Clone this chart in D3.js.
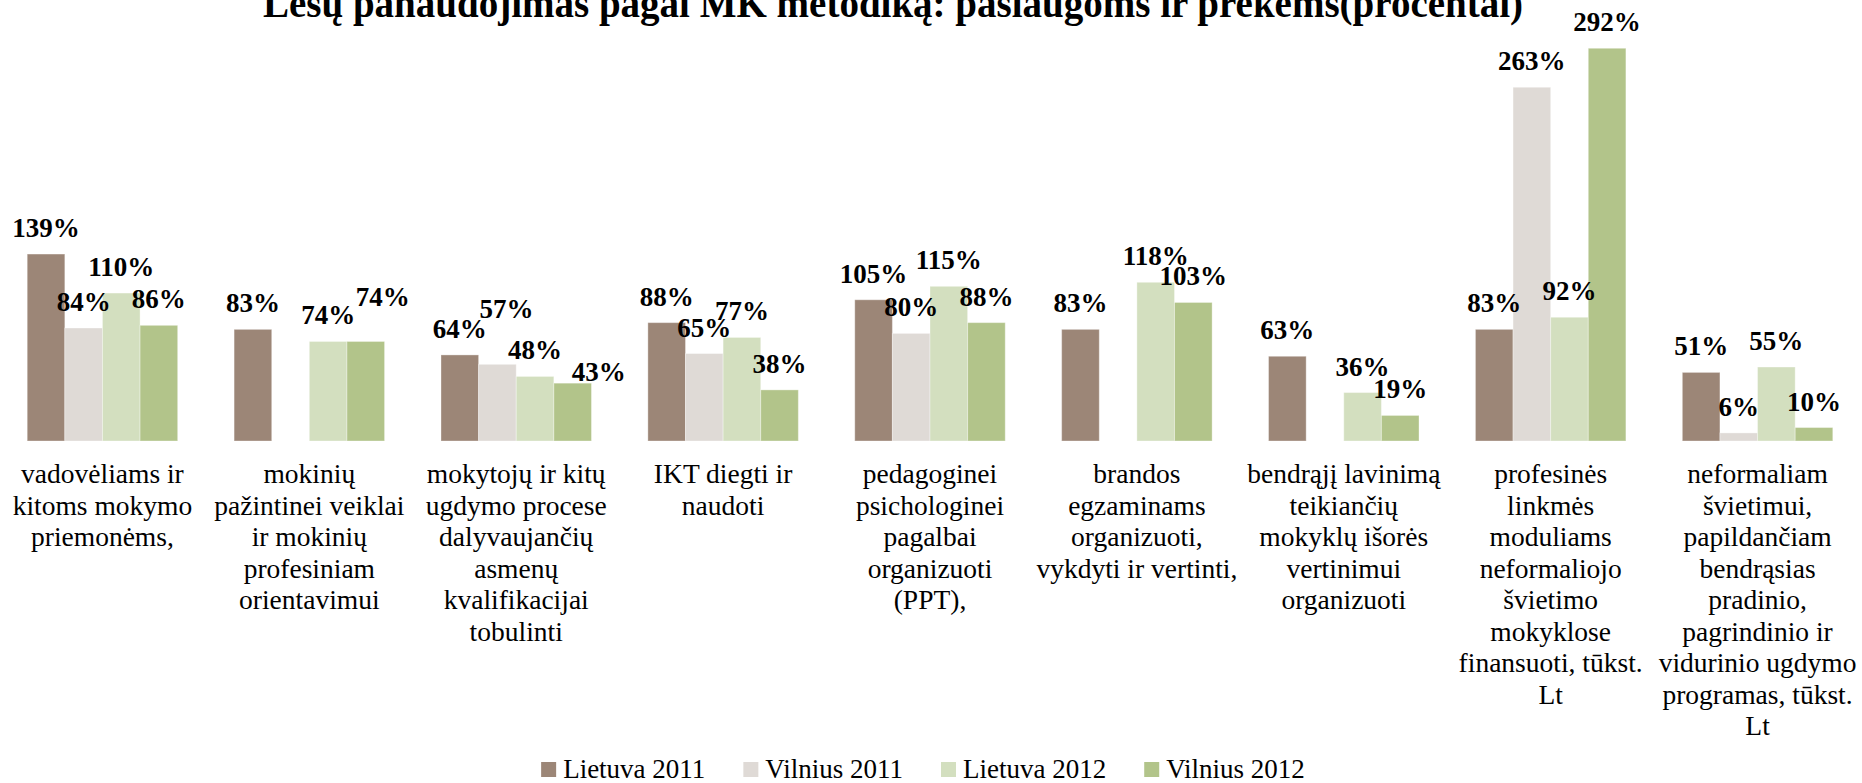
<!DOCTYPE html>
<html>
<head>
<meta charset="utf-8">
<script src="https://cdn.jsdelivr.net/npm/d3@7"></script>
<style>
  body { margin: 0; background: #fff; }
  svg { display: block; font-family: "Liberation Serif", serif; }
</style>
</head>
<body>
<script>
var width = 1862,
    height = 783

// categories (already broken into lines as in the original)
var categories = [
  ["vadovėliams ir", "kitoms mokymo", "priemonėms,"],
  ["mokinių", "pažintinei veiklai", "ir mokinių", "profesiniam", "orientavimui"],
  ["mokytojų ir kitų", "ugdymo procese", "dalyvaujančių", "asmenų", "kvalifikacijai", "tobulinti"],
  ["IKT diegti ir", "naudoti"],
  ["pedagoginei", "psichologinei", "pagalbai", "organizuoti", "(PPT),"],
  ["brandos", "egzaminams", "organizuoti,", "vykdyti ir vertinti,"],
  ["bendrąjį lavinimą", "teikiančių", "mokyklų išorės", "vertinimui", "organizuoti"],
  ["profesinės", "linkmės", "moduliams", "neformaliojo", "švietimo", "mokyklose", "finansuoti, tūkst.", "Lt"],
  ["neformaliam", "švietimui,", "papildančiam", "bendrąsias", "pradinio,", "pagrindinio ir", "vidurinio ugdymo", "programas, tūkst.", "Lt"]
];

var seriesNames = ["Lietuva 2011", "Vilnius 2011", "Lietuva 2012", "Vilnius 2012"];

var lietuva2011 = [139, 83, 64, 88, 105, 83, 63, 83, 51];
var vilnius2011 = [84, null, 57, 65, 80, null, null, 263, 6];
var lietuva2012 = [110, 74, 48, 77, 115, 118, 36, 92, 55];
var vilnius2012 = [86, 74, 43, 38, 88, 103, 19, 292, 10];

var seriesValues = [lietuva2011, vilnius2011, lietuva2012, vilnius2012];

var colors = ["#9c8677", "#dfdad6", "#d3dfbf", "#b2c48a"];

// a few labels were dragged by hand in the original
var labelNudge = [
  {cat: 1, series: 3, dx: 17, dy: -18},
  {cat: 2, series: 1, dx: 9, dy: -29},
  {cat: 2, series: 3, dx: 26, dy: 15}
];

var svg = d3.select("body").append("svg")
    .attr("width", width)
    .attr("height", height);

var x0 = d3.scaleBand()
    .domain(d3.range(categories.length))
    .range([-1, 1861]);

var x1 = d3.scaleBand()
    .domain(d3.range(seriesNames.length))
    .range([0, x0.bandwidth()])
    .paddingInner(0)
    .paddingOuter(0.75);

var y = d3.scaleLinear()
    .domain([0, 300])
    .range([441, 37.5]);

var rows = [];
seriesValues.forEach(function(vals, s) {
  vals.forEach(function(v, c) {
    if (v === null) return;
    var n = labelNudge.filter(function(d) { return d.cat === c && d.series === s; })[0];
    rows.push({cat: c, series: s, value: v, dx: n ? n.dx : 0, dy: n ? n.dy : 0});
  });
});

// title
svg.append("text")
    .attr("x", 893)
    .attr("y", 17)
    .attr("text-anchor", "middle")
    .style("font-size", "39px")
    .style("font-weight", "bold")
    .text("Lėšų panaudojimas pagal MK metodiką: paslaugoms ir prekėms(procentai)");

// bars
svg.append("g").selectAll("rect")
  .data(rows)
  .enter().append("rect")
    .attr("x", function(d) { return x0(d.cat) + x1(d.series); })
    .attr("y", function(d) { return y(d.value); })
    .attr("width", x1.bandwidth())
    .attr("height", function(d) { return y(0) - y(d.value); })
    .attr("fill", function(d) { return colors[d.series]; })
    .attr("stroke", "rgba(255,255,255,0.35)")
    .attr("stroke-width", 1);

// data labels
svg.append("g").selectAll("text")
  .data(rows)
  .enter().append("text")
    .attr("x", function(d) { return x0(d.cat) + x1(d.series) + x1.bandwidth() / 2 + d.dx; })
    .attr("y", function(d) { return y(d.value) - 17 + d.dy; })
    .attr("text-anchor", "middle")
    .style("font-size", "27px")
    .style("font-weight", "bold")
    .text(function(d) { return d.value + "%"; });

// category labels
var cat = svg.append("g").selectAll("text")
  .data(categories)
  .enter().append("text")
    .attr("text-anchor", "middle")
    .attr("x", function(d, i) { return x0(i) + x0.bandwidth() / 2; })
    .attr("y", 483)
    .style("font-size", "27.5px");

cat.selectAll("tspan")
  .data(function(d) { return d; })
  .enter().append("tspan")
    .attr("x", function() { return d3.select(this.parentNode).attr("x"); })
    .attr("dy", function(d, i) { return i === 0 ? 0 : 31.5; })
    .text(function(d) { return d; });

// legend
var legend = svg.append("g");
var items = legend.selectAll("g")
  .data(seriesNames)
  .enter().append("g");

items.append("rect")
    .attr("y", 762)
    .attr("width", 15)
    .attr("height", 15)
    .attr("fill", function(d, i) { return colors[i]; });

items.append("text")
    .attr("x", 22)
    .attr("y", 778)
    .style("font-size", "27px")
    .text(function(d) { return d; });

var pos = 0;
var offsets = [];
items.each(function() {
  offsets.push(pos);
  pos += 22 + this.querySelector("text").getComputedTextLength() + 38;
});
var total = pos - 38;
items.attr("transform", function(d, i) {
  return "translate(" + (923 - total / 2 + offsets[i]) + ",0)";
});
</script>
</body>
</html>
